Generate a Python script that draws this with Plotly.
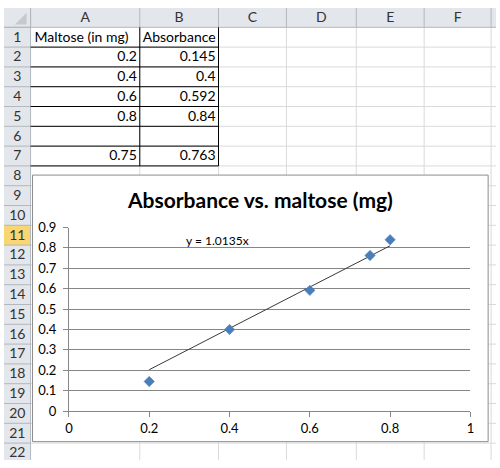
"""Excel sheet with the maltose standard curve, redrawn with Plotly."""

import plotly.graph_objects as go

# data, as typed in the sheet (rows 2-5 and 7)
maltose_mg = [0.2, 0.4, 0.6, 0.8, 0.75]
absorbance = [0.145, 0.4, 0.592, 0.84, 0.763]
sheet_rows = [2, 3, 4, 5, 7]
col_titles = ["Maltose (in mg)", "Absorbance"]
trend_slope = 1.0135

col_letters = ["A", "B", "C", "D", "E", "F"]
n_rows = 22
x_ticks = [0, 0.2, 0.4, 0.6, 0.8, 1]
y_ticks = [0, 0.1, 0.2, 0.3, 0.4, 0.5, 0.6, 0.7, 0.8, 0.9]

# sheet geometry, in screen pixels
W, H = 500, 468
head_h = 20
row_h = 20.5
col_edges = [27, 138, 218, 287, 358, 427, 495]
chart_box = (29, 173, 492, 449)  # left, top, right, bottom
active_row = 11

font = "Lato, 'Open Sans', sans-serif"
grid_col = "#d9dadc"
head_fill = "#e3e6ea"
head_line = "#b3b8bf"


def row_top(r):
    return head_h + (r - 1) * row_h


def line(x0, y0, x1, y1, color, width=1):
    return dict(
        type="line", xref="x", yref="y", x0=x0, y0=y0, x1=x1, y1=y1,
        line=dict(color=color, width=width), layer="below",
    )


def rect(x0, y0, x1, y1, fill, color=None, width=0):
    return dict(
        type="rect", xref="x", yref="y", x0=x0, y0=y0, x1=x1, y1=y1,
        fillcolor=fill, line=dict(color=color or fill, width=width), layer="below",
    )


shapes = []
# headers
shapes.append(rect(0, 0, W, head_h, head_fill))
shapes.append(rect(0, 0, col_edges[0], H, head_fill))
shapes.append(
    rect(0, row_top(active_row), col_edges[0], row_top(active_row + 1), "#f7d673")
)
shapes.append(
    dict(
        type="path", xref="x", yref="y", layer="below",
        path=f"M {col_edges[0] - 4},{head_h - 15} L {col_edges[0] - 4},{head_h - 3} "
        f"L {col_edges[0] - 16},{head_h - 3} Z",
        fillcolor="#c6cad0", line=dict(width=0),
    )
)
for xe in col_edges:
    shapes.append(line(xe, 0, xe, head_h, head_line))
for r in range(1, n_rows + 2):
    shapes.append(line(0, row_top(r), col_edges[0], row_top(r), head_line))

# cell grid
for xe in col_edges[1:]:
    shapes.append(line(xe, head_h, xe, H, grid_col))
for r in range(2, n_rows + 2):
    shapes.append(line(col_edges[0], row_top(r), W, row_top(r), grid_col))
shapes.append(line(0, head_h, W, head_h, head_line))
shapes.append(line(col_edges[0], 0, col_edges[0], H, head_line))

# black borders round A1:B7
last_row = max(sheet_rows)
for xe in col_edges[1:3]:
    shapes.append(line(xe, head_h, xe, row_top(last_row + 1), "#000000"))
for r in range(2, last_row + 2):
    shapes.append(line(col_edges[0], row_top(r), col_edges[2], row_top(r), "#000000"))

# chart area
cl, ct, cr, cb = chart_box
shapes.append(rect(cl, ct, cr, cb, "#ffffff", "#8c8c8c", 1))

fig = go.Figure()

# headers text
fig.add_trace(
    go.Scatter(
        x=[(a + b) / 2 for a, b in zip(col_edges[:-1], col_edges[1:])],
        y=[head_h / 2 + 1] * len(col_letters),
        text=col_letters, mode="text",
        textfont=dict(family=font, size=14, color="#333333"),
        hoverinfo="skip", xaxis="x", yaxis="y",
    )
)
fig.add_trace(
    go.Scatter(
        x=[col_edges[0] / 2] * n_rows,
        y=[row_top(r) + row_h / 2 + 1 for r in range(1, n_rows + 1)],
        text=[str(r) for r in range(1, n_rows + 1)], mode="text",
        textfont=dict(family=font, size=14, color="#333333"),
        hoverinfo="skip", xaxis="x", yaxis="y",
    )
)
# cell contents
fig.add_trace(
    go.Scatter(
        x=[col_edges[0] + 4, col_edges[1] + 3],
        y=[row_top(1) + row_h / 2 + 1] * 2,
        text=col_titles, mode="text", textposition="middle right",
        textfont=dict(family=font, size=14, color="#000000"),
        hoverinfo="skip", xaxis="x", yaxis="y",
    )
)
cell_x, cell_y, cell_t = [], [], []
for r, m, a in zip(sheet_rows, maltose_mg, absorbance):
    for xe, v in ((col_edges[1], m), (col_edges[2], a)):
        cell_x.append(xe - 3)
        cell_y.append(row_top(r) + row_h / 2 + 1)
        cell_t.append(f"{v:g}")
fig.add_trace(
    go.Scatter(
        x=cell_x, y=cell_y, text=cell_t, mode="text", textposition="middle left",
        textfont=dict(family=font, size=14, color="#000000"),
        hoverinfo="skip", xaxis="x", yaxis="y",
    )
)

# the chart itself
x_lo, x_hi = min(maltose_mg), max(maltose_mg)
fig.add_trace(
    go.Scatter(
        x=[x_lo, x_hi], y=[trend_slope * x_lo, trend_slope * x_hi],
        mode="lines", line=dict(color="#3a3a3a", width=1),
        hoverinfo="skip", xaxis="x2", yaxis="y2",
    )
)
fig.add_trace(
    go.Scatter(
        x=maltose_mg, y=absorbance, mode="markers",
        marker=dict(symbol="diamond", size=8, color="#4a7ebb",
                    line=dict(color="#4a7ebb", width=0.5)),
        xaxis="x2", yaxis="y2",
    )
)

x0_px, x1_px = 66, 474
y0_px, y9_px = 417.3, 227.3

fig.update_layout(
    autosize=True, margin=dict(l=0, r=0, t=0, b=0),
    paper_bgcolor="#ffffff", plot_bgcolor="rgba(0,0,0,0)",
    showlegend=False, shapes=shapes,
    xaxis=dict(domain=[0, 1], range=[0, W], visible=False, fixedrange=True),
    yaxis=dict(domain=[0, 1], range=[H, 0], visible=False, fixedrange=True),
    xaxis2=dict(
        domain=[x0_px / W, x1_px / W], range=[0, 1], anchor="y2",
        tickvals=x_ticks, ticktext=[f"{v:g}" for v in x_ticks],
        showgrid=False, zeroline=False, showline=True, linecolor="#868686",
        ticks="outside", ticklen=5, tickcolor="#868686",
        tickfont=dict(family=font, size=13, color="#000000"),
    ),
    yaxis2=dict(
        domain=[(H - y0_px) / H, (H - y9_px) / H], range=[0, 0.9], anchor="x2",
        tickvals=y_ticks, ticktext=[f"{v:g}" for v in y_ticks],
        showgrid=True, gridcolor="#868686", zeroline=False,
        showline=True, linecolor="#868686",
        ticks="outside", ticklen=5, tickcolor="#868686", ticklabelstandoff=4,
        tickfont=dict(family=font, size=13, color="#000000"),
    ),
    annotations=[
        dict(
            text="<b>Absorbance vs. maltose (mg)</b>", xref="x", yref="y",
            x=(cl + cr) / 2, y=198, showarrow=False,
            font=dict(family=font, size=21, color="#000000"),
        ),
        dict(
            text=f"y = {trend_slope}x", xref="x2", yref="y2",
            x=0.371, y=0.835, showarrow=False,
            font=dict(family=font, size=12, color="#000000"),
        ),
    ],
)

# fill the browser window exactly: no body margin, no scrollbars, no modebar
fig.write_html(
    "out.html",
    default_width="100vw",
    default_height="100vh",
    config={"responsive": True, "displayModeBar": False},
    post_script=(
        "document.body.style.margin = '0';"
        "document.body.style.overflow = 'hidden';"
        "document.documentElement.style.overflow = 'hidden';"
        "window.dispatchEvent(new Event('resize'));"
    ),
)
